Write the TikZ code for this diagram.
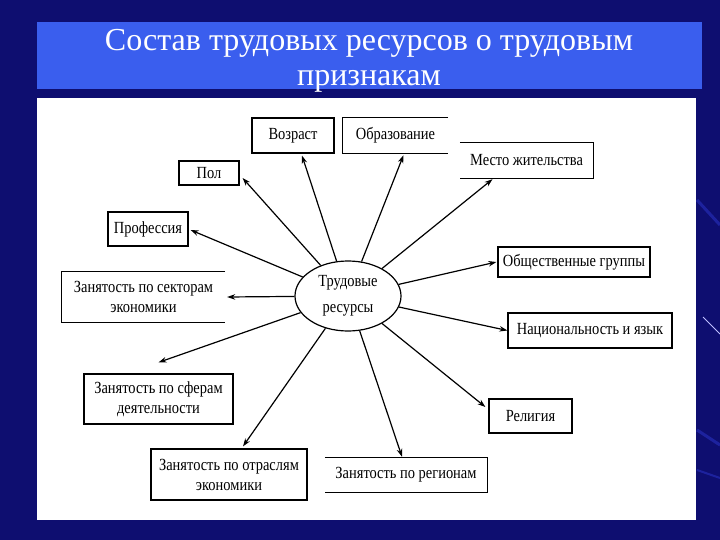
\documentclass[tikz,border=0pt]{standalone}
\usepackage{fontspec}
\setmainfont{Liberation Serif}
\newfontfamily\boxfont[FakeStretch=0.85]{Liberation Serif}
\usetikzlibrary{arrows.meta,shapes.geometric}
\definecolor{bgblue}{RGB}{14,14,112}
\definecolor{streak}{RGB}{40,48,190}
\definecolor{titleblue}{RGB}{58,94,238}
\tikzset{
  bx/.style={draw, line width=1.2pt, inner sep=0pt, align=center,
    font=\boxfont\fontsize{17}{20}\selectfont},
  bxo/.style={draw=none, inner sep=0pt, align=center,
    font=\boxfont\fontsize{17}{20}\selectfont},
  edgeline/.style={line width=1.2pt},
  arr/.style={line width=1.2pt, -{Stealth[length=8pt,width=5.5pt]}}
}
\begin{document}
\begin{tikzpicture}[x=1pt,y=-1pt]
\useasboundingbox (0,0) rectangle (720,540);
% background
\fill[bgblue] (0,0) rectangle (720,540);
\draw[streak, line width=3pt, opacity=0.6] (697,200) -- (720,225);
\draw[streak, line width=3pt, opacity=0.6] (697,430) -- (720,445);
\draw[streak, line width=2pt, opacity=0.6] (697,470) -- (720,478);
\draw[white!75!blue, line width=1pt] (703,317) -- (720,334);
% title
\fill[titleblue] (37,22) rectangle (702,89);
\node[text=white, font=\fontsize{32}{35}\selectfont, align=center, inner sep=0pt]
  (title) at (369,61) {Состав трудовых ресурсов о трудовым\\признакам};
% panel
\fill[white] (37,98) rectangle (696,520);

% central ellipse
\node[ellipse, draw, line width=1.2pt, minimum width=106pt, minimum height=70pt,
  inner sep=0pt, align=center, font=\boxfont\fontsize{17}{26}\selectfont]
  (ell) at (348,296) {Трудовые\\ресурсы};

% boxes
\node[bx, minimum width=82pt, minimum height=35pt] (voz) at (293,135.5) {Возраст};
\node[bxo, minimum width=105pt, minimum height=35pt] (obr) at (395.5,135.5) {Образование};
\node[bxo, minimum width=133pt, minimum height=35pt] (mesto) at (526.5,160.5) {Место жительства};
\node[bx, minimum width=60pt, minimum height=24pt] (pol) at (209,173) {Пол};
\node[bx, minimum width=80pt, minimum height=34pt] (prof) at (148,229) {Профессия};
\node[bxo, minimum width=163pt, minimum height=50pt] (sekt) at (143.5,297) {Занятость по секторам\\экономики};
\node[bx, minimum width=152pt, minimum height=30pt] (obsh) at (574,262) {Общественные группы};
\node[bx, minimum width=164pt, minimum height=35pt] (nac) at (590,330.5) {Национальность и язык};
\node[bx, minimum width=83pt, minimum height=34pt] (rel) at (530.5,416) {Религия};
\node[bxo, minimum width=162pt, minimum height=34pt] (reg) at (406,475) {Занятость по регионам};
\node[bx, minimum width=156pt, minimum height=51pt] (otr) at (229,474.5) {Занятость по отраслям\\экономики};
\node[bx, minimum width=149pt, minimum height=50pt] (sfer) at (158.5,399) {Занятость по сферам\\деятельности};

% open-sided boxes
\draw[edgeline] (obr.north east) -- (obr.north west) -- (obr.south west) -- (obr.south east);
\draw[edgeline] (mesto.north west) -- (mesto.north east) -- (mesto.south east) -- (mesto.south west);
\draw[edgeline] (sekt.north east) -- (sekt.north west) -- (sekt.south west) -- (sekt.south east);
\draw[edgeline] (reg.north west) -- (reg.north east) -- (reg.south east) -- (reg.south west);

% arrows
\draw[arr] (ell) -- ([xshift=9pt,yshift=-2pt]voz.south);
\draw[arr] (ell) -- ([xshift=8pt,yshift=-2pt]obr.south);
\draw[arr] (ell) -- ([xshift=-34pt,yshift=-1pt]mesto.south);
\draw[arr] (ell) -- ([xshift=-1pt]obsh.west);
\draw[arr] (ell) -- (nac.west);
\draw[arr] (ell) -- ([xshift=-3pt,yshift=9pt]rel.west);
\draw[arr] (ell) -- ([xshift=-4pt,yshift=1pt]reg.north);
\draw[arr] (ell) -- ([xshift=14pt,yshift=2pt]otr.north);
\draw[arr] (ell) -- ([yshift=11pt]sfer.north);
\draw[arr] (ell) -- ([xshift=2pt]sekt.east);
\draw[arr] (ell) -- ([xshift=2pt,yshift=-1pt]prof.east);
\draw[arr] (ell) -- ([xshift=3pt,yshift=-5pt]pol.east);
\end{tikzpicture}
\end{document}
